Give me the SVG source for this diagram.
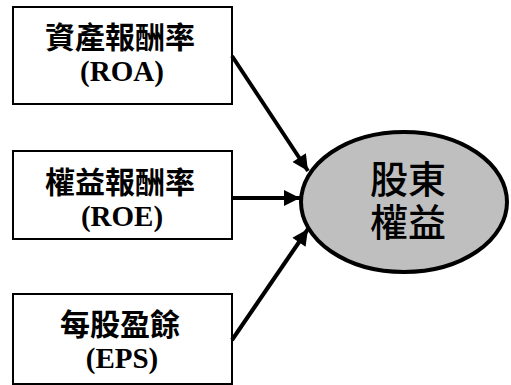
<svg xmlns="http://www.w3.org/2000/svg" width="511" height="385" viewBox="0 0 511 385">
<style>
.box{fill:#fff;stroke:#000;stroke-width:2}
.lbl{text-anchor:middle;fill:#000;font-weight:bold}
.cjk{font-family:"Noto Sans CJK TC","Noto Sans CJK SC",sans-serif;font-size:30px}
.lat{font-family:"Liberation Serif",serif;font-size:29px}
.big{font-family:"Noto Sans CJK TC","Noto Sans CJK SC",sans-serif;font-weight:500;font-size:38px;text-anchor:middle;fill:#000}
.edge{stroke:#000;stroke-width:4;fill:none;marker-end:url(#ah)}
</style>
<defs>
<marker id="ah" viewBox="0 0 10 10" refX="10" refY="5" markerWidth="4.5" markerHeight="4" orient="auto" markerUnits="strokeWidth">
<path d="M0,0 L10,5 L0,10 z" fill="#000"/>
</marker>
</defs>
<g id="roa">
<rect class="box" x="13" y="7" width="219" height="97"/>
<text class="lbl"><tspan class="cjk" x="120" y="48">資產報酬率</tspan><tspan class="lat" x="122" y="81">(ROA)</tspan></text>
</g>
<g id="roe">
<rect class="box" x="13" y="151" width="219" height="88"/>
<text class="lbl"><tspan class="cjk" x="120" y="193">權益報酬率</tspan><tspan class="lat" x="122" y="226">(ROE)</tspan></text>
</g>
<g id="eps">
<rect class="box" x="13" y="294" width="219" height="90"/>
<text class="lbl"><tspan class="cjk" x="120" y="335">每股盈餘</tspan><tspan class="lat" x="122" y="368">(EPS)</tspan></text>
</g>
<g id="equity">
<ellipse cx="404" cy="202" rx="103" ry="70" fill="#bfbfbf" stroke="#000" stroke-width="4"/>
<text class="big"><tspan x="408" y="193">股東</tspan><tspan x="408" y="236">權益</tspan></text>
</g>
<g id="connectors">
<line class="edge" x1="232" y1="56" x2="308" y2="171"/>
<line class="edge" x1="232" y1="198" x2="300" y2="198"/>
<line class="edge" x1="232" y1="340" x2="308" y2="229"/>
</g>
</svg>
